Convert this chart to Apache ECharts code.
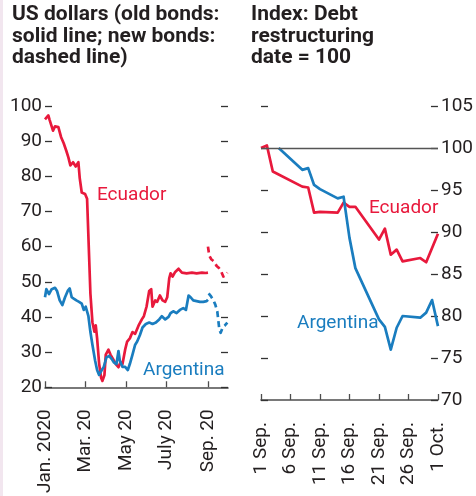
<!DOCTYPE html>
<html>
<head>
<meta charset="utf-8">
<script src="https://cdn.jsdelivr.net/npm/echarts@6/dist/echarts.min.js"></script>
<style>
  html, body { margin: 0; padding: 0; background: #ffffff; }
  #chart { width: 476px; height: 496px; }
</style>
</head>
<body>
<div id="chart"></div>
<script>
// ---- Left panel: bond prices, US dollars ----
const ecuadorOldDates = ['2020-01-01','2020-01-06','2020-01-08','2020-01-13','2020-01-16','2020-01-21','2020-01-25','2020-01-29','2020-02-02','2020-02-05','2020-02-08','2020-02-12','2020-02-16','2020-02-20','2020-02-22','2020-02-25','2020-03-01','2020-03-04','2020-03-07','2020-03-09','2020-03-12','2020-03-15','2020-03-17','2020-03-19','2020-03-22','2020-03-25','2020-03-27','2020-03-30','2020-04-01','2020-04-05','2020-04-08','2020-04-12','2020-04-16','2020-04-20','2020-04-23','2020-04-26','2020-04-30','2020-05-03','2020-05-07','2020-05-11','2020-05-15','2020-05-20','2020-05-25','2020-05-28','2020-06-01','2020-06-05','2020-06-08','2020-06-10','2020-06-14','2020-06-17','2020-06-21','2020-06-25','2020-06-29','2020-07-02','2020-07-05','2020-07-07','2020-07-10','2020-07-14','2020-07-19','2020-07-24','2020-07-31','2020-08-08','2020-08-15','2020-08-23','2020-08-29','2020-09-01'];
const ecuadorOldValues = [96.2,97.3,96.0,93.0,94.2,94.0,91.2,89.4,87.2,85.4,83.1,84.0,82.8,84.0,79.5,75.4,75.0,73.6,57.4,46.6,38.5,35.8,37.6,34.0,26.8,22.7,21.8,23.5,29.3,30.7,29.3,28.0,26.6,25.7,27.1,26.6,30.7,33.0,33.9,35.7,35.2,37.5,39.3,40.2,42.9,47.4,47.9,42.9,44.7,44.3,46.1,44.7,44.3,45.6,51.0,52.4,51.5,52.8,53.7,52.6,52.4,52.6,52.4,52.6,52.5,52.6];

const ecuadorNewDates = ['2020-09-01','2020-09-03','2020-09-06','2020-09-10','2020-09-14','2020-09-17','2020-09-20','2020-09-24','2020-09-27','2020-09-30'];
const ecuadorNewValues = [60.0,57.4,56.4,55.8,54.5,54.0,53.3,51.5,51.8,52.6];

const argentinaOldDates = ['2020-01-01','2020-01-03','2020-01-07','2020-01-11','2020-01-16','2020-01-19','2020-01-23','2020-01-27','2020-01-31','2020-02-04','2020-02-07','2020-02-10','2020-02-13','2020-02-17','2020-02-21','2020-02-25','2020-02-28','2020-03-02','2020-03-06','2020-03-09','2020-03-12','2020-03-16','2020-03-19','2020-03-22','2020-03-26','2020-03-29','2020-04-02','2020-04-06','2020-04-10','2020-04-13','2020-04-17','2020-04-20','2020-04-22','2020-04-26','2020-04-30','2020-05-04','2020-05-07','2020-05-11','2020-05-15','2020-05-18','2020-05-22','2020-05-26','2020-05-31','2020-06-05','2020-06-10','2020-06-15','2020-06-20','2020-06-24','2020-06-29','2020-07-04','2020-07-07','2020-07-11','2020-07-16','2020-07-21','2020-07-26','2020-07-30','2020-08-03','2020-08-06','2020-08-10','2020-08-15','2020-08-20','2020-08-25','2020-08-30','2020-09-01'];
const argentinaOldValues = [45.6,47.9,46.5,47.9,48.3,47.4,44.7,43.4,45.6,47.4,48.1,45.6,45.2,44.7,44.3,43.8,42.0,42.9,40.2,35.7,32.1,27.6,24.9,23.5,24.9,25.8,28.5,28.9,28.0,27.1,26.6,30.3,27.6,25.8,25.8,24.9,26.6,29.3,32.1,33.0,34.8,37.0,38.0,38.4,38.0,38.4,39.3,40.2,39.3,40.0,41.1,41.6,41.1,42.0,42.5,42.0,46.1,45.6,44.7,44.5,44.3,44.3,44.5,44.9];

const argentinaNewDates = ['2020-09-02','2020-09-05','2020-09-09','2020-09-12','2020-09-15','2020-09-18','2020-09-20','2020-09-23','2020-09-26','2020-09-30'];
const argentinaNewValues = [46.7,46.0,44.8,43.5,41.5,36.5,35.5,37.0,37.5,38.4];

const leftTickDates = ['2020-01-01','2020-03-01','2020-05-01','2020-07-01','2020-09-01'];
const leftTickLabels = ['Jan. 2020','Mar. 20','May 20','July 20','Sep. 20'];

// ---- Right panel: index, debt restructuring date = 100 ----
const ecuadorIndexDates = ['2020-09-01','2020-09-02','2020-09-03','2020-09-08','2020-09-09','2020-09-10','2020-09-11','2020-09-14','2020-09-15','2020-09-16','2020-09-17','2020-09-21','2020-09-22','2020-09-23','2020-09-24','2020-09-25','2020-09-28','2020-09-29','2020-10-01'];
const ecuadorIndexValues = [100,100.3,97.2,95.4,95.3,92.3,92.4,92.3,93.5,93.0,93.0,89.1,90.4,87.3,87.9,86.5,86.9,86.4,89.8];

const argentinaIndexDates = ['2020-09-04','2020-09-08','2020-09-09','2020-09-10','2020-09-11','2020-09-14','2020-09-15','2020-09-16','2020-09-17','2020-09-21','2020-09-22','2020-09-23','2020-09-24','2020-09-25','2020-09-28','2020-09-29','2020-09-30','2020-10-01'];
const argentinaIndexValues = [100,97.4,97.6,95.6,95.1,94.0,94.2,89.3,85.7,79.6,78.7,76.0,78.6,80.0,79.8,80.4,81.9,78.8];

const rightTickDates = ['2020-09-01','2020-09-06','2020-09-11','2020-09-16','2020-09-21','2020-09-26','2020-10-01'];
const rightTickLabels = ['1 Sep.','6 Sep.','11 Sep.','16 Sep.','21 Sep.','26 Sep.','1 Oct.'];

const titleLeft = 'US dollars (old bonds:\nsolid line; new bonds:\ndashed line)';
const titleRight = 'Index: Debt\nrestructuring\ndate = 100';

// ---- styling ----
const RED = '#e8193c';
const BLUE = '#1a7dbf';
const INK = '#231f20';
const FONT = "Roboto, 'Liberation Sans', sans-serif";
const FS = 19;

// dates become UTC millisecond timestamps on a numeric axis
const ts = d => Date.parse(d + 'T00:00:00Z');
const zip = (ds, vs) => ds.map((d, i) => [ts(d), vs[i]]);

function labelMap(dates, labels) {
  const m = {};
  dates.forEach((d, i) => { m[ts(d)] = labels[i]; });
  return m;
}
const leftLabelMap = labelMap(leftTickDates, leftTickLabels);
const rightLabelMap = labelMap(rightTickDates, rightTickLabels);

function xAxisFor(gridIndex, min, max, dates, map) {
  const vals = dates.map(ts);
  return {
    type: 'value', gridIndex, min: ts(min), max: ts(max),
    axisLine: { show: true, onZero: false, lineStyle: { color: '#4d4d4d', width: 1.6 } },
    axisTick: { show: true, inside: true, length: 6, customValues: vals, lineStyle: { color: '#4d4d4d', width: 1.3 } },
    axisLabel: {
      customValues: vals, rotate: 90, margin: 22,
      formatter: v => map[v] || '',
      fontFamily: FONT, fontSize: FS, color: INK, hideOverlap: false
    },
    splitLine: { show: false }
  };
}

function yAxisFor(gridIndex, position, min, max, interval, showLabel) {
  return {
    type: 'value', gridIndex, position, min, max, interval,
    axisLine: { show: false },
    axisTick: { show: true, inside: true, length: 7, lineStyle: { color: '#333', width: 1.3 } },
    axisLabel: { show: showLabel, margin: 3, fontFamily: FONT, fontSize: FS, color: INK },
    splitLine: { show: false }
  };
}

function line(name, xi, yi, data, color, dashed) {
  return {
    name, type: 'line', xAxisIndex: xi, yAxisIndex: yi, data,
    showSymbol: false, symbol: 'none', silent: true, animation: false,
    lineStyle: { color, width: 2.7, type: dashed ? [6, 4] : 'solid', join: 'round' }
  };
}

const chart = echarts.init(document.getElementById('chart'), null, { renderer: 'canvas' });

const labelText = (text, x, y, color) => ({
  type: 'text', x, y,
  style: { text, fill: color, font: `${FS}px ${FONT}`, verticalAlign: 'middle' }
});

chart.setOption({
  backgroundColor: '#ffffff',
  animation: false,
  grid: [
    { left: 45, top: 106, width: 183, height: 294 },
    { left: 261, top: 106, width: 181, height: 294 }
  ],
  xAxis: [
    xAxisFor(0, '2020-01-01', '2020-10-01', leftTickDates, leftLabelMap),
    xAxisFor(1, '2020-09-01', '2020-10-01', rightTickDates, rightLabelMap)
  ],
  yAxis: [
    yAxisFor(0, 'left', 20, 100, 10, true),
    yAxisFor(0, 'right', 20, 100, 10, false),
    yAxisFor(1, 'right', 70, 105, 5, true),
    yAxisFor(1, 'left', 70, 105, 5, false)
  ],
  series: [
    line('Ecuador old', 0, 0, zip(ecuadorOldDates, ecuadorOldValues), RED, false),
    line('Ecuador new', 0, 0, zip(ecuadorNewDates, ecuadorNewValues), RED, true),
    line('Argentina old', 0, 0, zip(argentinaOldDates, argentinaOldValues), BLUE, false),
    line('Argentina new', 0, 0, zip(argentinaNewDates, argentinaNewValues), BLUE, true),
    Object.assign(line('Ecuador index', 1, 2, zip(ecuadorIndexDates, ecuadorIndexValues), RED, false), {
      z: 3,
      markLine: {
        silent: true, symbol: 'none', label: { show: false }, animation: false,
        lineStyle: { color: '#555', width: 1.3, type: 'solid' },
        data: [{ yAxis: 100 }]
      }
    }),
    line('Argentina index', 1, 2, zip(argentinaIndexDates, argentinaIndexValues), BLUE, false)
  ],
  graphic: [
    { type: 'rect', shape: { x: 0, y: 0, width: 3, height: 496 }, style: { fill: '#f2e6ef' } },
    { type: 'text', x: 12, y: 4, style: { text: titleLeft, fill: INK, font: `bold 21px ${FONT}`, lineHeight: 21.5 } },
    { type: 'text', x: 251, y: 4, style: { text: titleRight, fill: INK, font: `bold 21px ${FONT}`, lineHeight: 21.5 } },
    labelText('Ecuador', 97, 195, RED),
    labelText('Argentina', 143, 370, BLUE),
    labelText('Ecuador', 369, 208, RED),
    labelText('Argentina', 297, 323, BLUE)
  ]
});
</script>
</body>
</html>
